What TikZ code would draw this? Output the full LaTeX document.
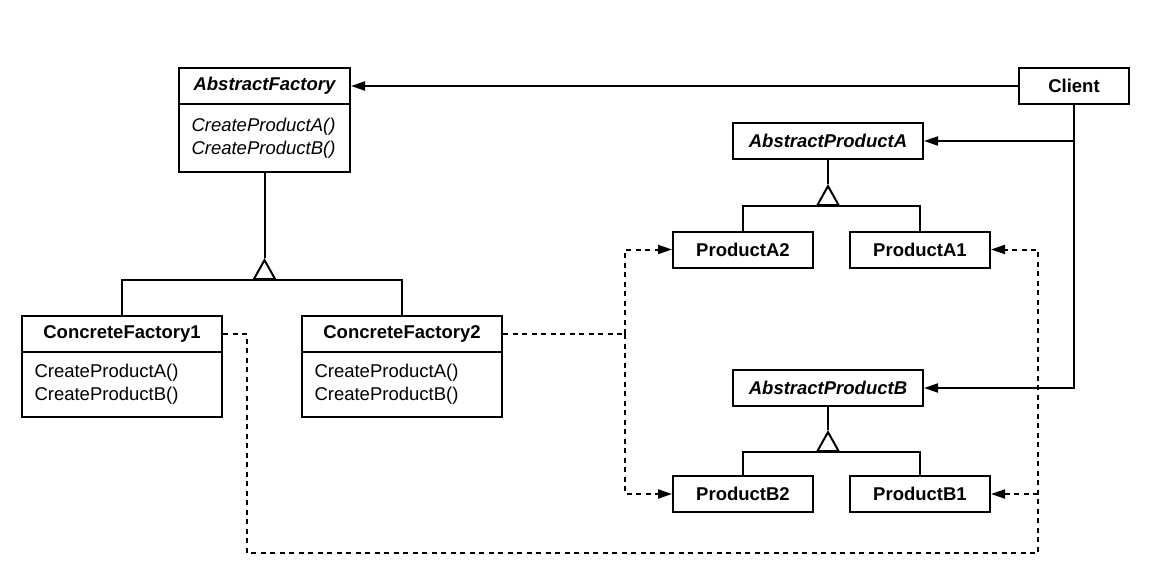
\documentclass[tikz,border=0pt]{standalone}
\usepackage{fontspec}
\setmainfont{Liberation Sans}
\usepackage{tikz}
\usetikzlibrary{arrows.meta, positioning, calc}

\newcommand{\umlsize}{\fontsize{18.5}{23}\selectfont}

\tikzset{
  cls/.style={draw, line width=2pt, font=\umlsize\bfseries, minimum height=36pt, inner sep=0pt},
  abscls/.style={cls, font=\umlsize\bfseries\itshape},
  ops/.style={draw, line width=2pt, font=\umlsize, align=left, inner xsep=12.5pt, inner ysep=0pt},
  link/.style={line width=2pt},
  headed/.style={-{Triangle[length=14pt, width=9pt]}},
  assoc/.style={link, headed},
  dep/.style={link, dash pattern=on 5pt off 4.5pt},
  inherit/.style={link, -{Triangle[open, length=22pt, width=24pt]}},
}

\begin{document}
\begin{tikzpicture}[x=1pt, y=-1pt]
    \useasboundingbox[fill=white] (0,0) rectangle (1156,578);

    % Factories
    \node[abscls, minimum width=171pt] (af) at (264.5,86) {AbstractFactory};
    \node[ops, font=\umlsize\itshape, text width=146pt, minimum height=68pt, below=-2pt of af] (afops) {CreateProductA()\\CreateProductB()};
    \node[cls, minimum width=200pt] (cf1) at (122,334) {ConcreteFactory1};
    \node[ops, text width=175pt, minimum height=65pt, below=-2pt of cf1] (cf1ops) {CreateProductA()\\CreateProductB()};
    \node[cls, minimum width=200pt] (cf2) at (402,334) {ConcreteFactory2};
    \node[ops, text width=175pt, minimum height=65pt, below=-2pt of cf2] (cf2ops) {CreateProductA()\\CreateProductB()};

    % Client and products
    \node[cls, minimum width=110pt] (client) at (1074,86) {Client};
    \node[abscls, minimum width=190pt] (apa) at (828,141) {AbstractProductA};
    \node[cls, minimum width=140pt] (pa2) at (743,249.5) {ProductA2};
    \node[cls, minimum width=140pt] (pa1) at (920,249.5) {ProductA1};
    \node[abscls, minimum width=190pt] (apb) at (828,388) {AbstractProductB};
    \node[cls, minimum width=140pt] (pb2) at (743,494) {ProductB2};
    \node[cls, minimum width=140pt] (pb1) at (920,494) {ProductB1};

    % Inheritance
    \coordinate (afbar) at (264.5,280);
    \coordinate (apabar) at (828,206);
    \coordinate (apbbar) at (828,452);
    \draw[inherit] (afbar) -- ++(0,-22) coordinate (aftip);
    \draw[link] (aftip) -- (afops.south);
    \draw[link] (cf1.north) |- (afbar) -| (cf2.north);
    \draw[inherit] (apabar) -- ++(0,-22) coordinate (apatip);
    \draw[link] (apatip) -- (apa.south);
    \draw[link] (pa2.north) |- (apabar) -| (pa1.north);
    \draw[inherit] (apbbar) -- ++(0,-22) coordinate (apbtip);
    \draw[link] (apbtip) -- (apb.south);
    \draw[link] (pb2.north) |- (apbbar) -| (pb1.north);

    % Client associations
    \draw[assoc] (client.west) -- (af.east);
    \draw[assoc] (client.south) |- (apb.east);
    \draw[assoc] (client.south |- apa.east) -- (apa.east);

    % Instantiation
    \coordinate (botleft) at (247,553);
    \coordinate (botright) at (1038,553);
    \draw[dep, headed] (cf1.east) -| (botleft) -- (botright) |- (pa1.east);
    \draw[dep, headed] (botright |- pb1.east) -- (pb1.east);
    \draw[dep] (cf2.east) -- ++(122,0) coordinate (cf2turn);
    \draw[dep, headed] (cf2turn) |- (pa2.west);
    \draw[dep, headed] (cf2turn) |- (pb2.west);
\end{tikzpicture}
\end{document}
